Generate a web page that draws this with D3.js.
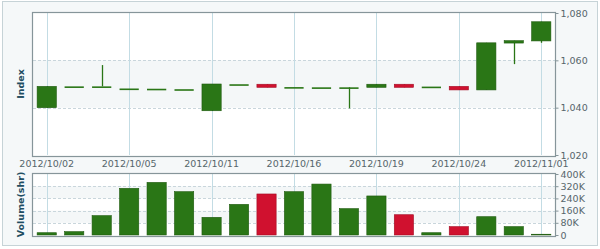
<!DOCTYPE html>
<html>
<head>
<meta charset="utf-8">
<script src="https://cdn.jsdelivr.net/npm/d3@7"></script>
<style>
  body { margin: 0; background: #fff; }
  svg { display: block; font-family: "DejaVu Sans", Verdana, sans-serif; }
</style>
</head>
<body>
<script>
// trading days shown on the chart
const dates = ['2012/10/02', '2012/10/03', '2012/10/04', '2012/10/05', '2012/10/08', '2012/10/10',
    '2012/10/11', '2012/10/12', '2012/10/15', '2012/10/16', '2012/10/17', '2012/10/18',
    '2012/10/19', '2012/10/22', '2012/10/23', '2012/10/24', '2012/10/26', '2012/10/29', '2012/11/01'];
const openValues = [1040, 1049, 1049, 1048.1, 1048, 1047.8, 1038.7, 1049.9, 1049.9, 1048.7,
    1048.6, 1048.6, 1048.6, 1049.9, 1048.9, 1049, 1047.5, 1067.3, 1068.2];
const closeValues = [1049, 1049, 1049, 1048.1, 1048, 1047.8, 1050, 1049.9, 1048.6, 1048.7,
    1048.6, 1048.6, 1049.9, 1048.6, 1048.9, 1047.5, 1067.4, 1068.3, 1076.3];
const highValues = [1049, 1049, 1058, 1048.1, 1048, 1047.8, 1050, 1049.9, 1049.9, 1048.7,
    1048.6, 1048.6, 1049.9, 1049.9, 1048.9, 1049, 1067.4, 1068.3, 1076.3];
const lowValues = [1040, 1049, 1049, 1048.1, 1048, 1047.8, 1038.7, 1049.9, 1048.6, 1048.7,
    1048.6, 1039.7, 1048.6, 1048.6, 1048.9, 1047.5, 1047.5, 1058.4, 1067.4];
const volumeValues = [15, 22, 127, 306, 345, 284, 116, 201, 269, 284,
    334, 173, 256, 133, 15, 55, 120, 55, 5].map(v => v * 1000);
const dateLabels = ['2012/10/02', '2012/10/05', '2012/10/11', '2012/10/16', '2012/10/19', '2012/10/24', '2012/11/01'];
const priceTicks = [1020, 1040, 1060, 1080];
const volumeTicks = [0, 80000, 160000, 240000, 320000, 400000];

const width = 600, height = 249;
const green = '#2a7616', greenEdge = '#1e5a0e', red = '#d0112f', redEdge = '#a30d24';

const svg = d3.select('body').append('svg')
    .attr('width', width)
    .attr('height', height);

// outer panel
svg.append('rect')
    .attr('x', 2.5).attr('y', 1.5)
    .attr('width', 595).attr('height', 244)
    .attr('fill', '#f5f8f9')
    .attr('stroke', '#c6d3d7');

const left = 33, right = 555;
const price = { top: 13, bottom: 155 };
const vol = { top: 174, bottom: 235 };

const x = d3.scaleBand().domain(dates).range([left, right]).paddingInner(0.3).paddingOuter(0.15);
const yPrice = d3.scaleLinear().domain([1020, 1080]).range([price.bottom, price.top]);
const yVol = d3.scaleLinear().domain([0, 400000]).range([vol.bottom, vol.top]);

const rows = dates.map((d, i) => ({
    date: d,
    open: openValues[i],
    close: closeValues[i],
    high: highValues[i],
    low: lowValues[i],
    volume: volumeValues[i],
    up: closeValues[i] >= openValues[i]
}));

function drawFrame(top, bottom, y, ticks, bands) {
    const g = svg.append('g');
    g.append('rect')
        .attr('x', left).attr('y', top)
        .attr('width', right - left).attr('height', bottom - top + 1)
        .attr('fill', '#fff');

    // shaded alternating bands
    g.selectAll('rect.band')
        .data(bands)
        .enter()
        .append('rect')
        .attr('class', 'band')
        .attr('x', left).attr('width', right - left)
        .attr('y', d => y(d[1]))
        .attr('height', d => y(d[0]) - y(d[1]))
        .attr('fill', '#f4f7f8');

    g.selectAll('line.h')
        .data(ticks.slice(1, -1))
        .enter()
        .append('line')
        .attr('x1', left).attr('x2', right)
        .attr('y1', d => Math.round(y(d)) + 0.5)
        .attr('y2', d => Math.round(y(d)) + 0.5)
        .attr('stroke', '#c9d6dc')
        .attr('stroke-dasharray', '3,2');

    g.selectAll('line.v')
        .data(dateLabels)
        .enter()
        .append('line')
        .attr('x1', d => Math.round(x(d) + x.bandwidth() / 2) + 0.5)
        .attr('x2', d => Math.round(x(d) + x.bandwidth() / 2) + 0.5)
        .attr('y1', top).attr('y2', bottom)
        .attr('stroke', '#c3dce4');

    return g;
}

function drawBorder(top, bottom) {
    svg.append('rect')
        .attr('x', left - 0.5).attr('y', top - 0.5)
        .attr('width', right - left + 1).attr('height', bottom - top + 2)
        .attr('fill', 'none')
        .attr('stroke', '#86959a')
        .attr('stroke-width', 1.2);
}

drawFrame(price.top, price.bottom, yPrice, priceTicks, [[1040, 1060]]);
drawFrame(vol.top, vol.bottom, yVol, volumeTicks, [[80000, 160000], [240000, 320000]]);

// candles
const candles = svg.append('g')
    .selectAll('g')
    .data(rows)
    .enter()
    .append('g');

candles.append('line')
    .attr('x1', d => Math.round(x(d.date) + x.bandwidth() / 2) + 0.5)
    .attr('x2', d => Math.round(x(d.date) + x.bandwidth() / 2) + 0.5)
    .attr('y1', d => yPrice(d.high))
    .attr('y2', d => yPrice(d.low))
    .attr('stroke', d => d.up ? green : red)
    .attr('stroke-width', 1.3);

candles.append('rect')
    .attr('x', d => x(d.date))
    .attr('width', x.bandwidth())
    .attr('y', d => yPrice(Math.max(d.open, d.close)))
    .attr('height', d => Math.max(1.6, yPrice(Math.min(d.open, d.close)) - yPrice(Math.max(d.open, d.close))))
    .attr('fill', d => d.up ? green : red)
    .attr('stroke', d => d.up ? greenEdge : redEdge)
    .attr('stroke-width', d => d.open === d.close ? 0 : 0.6);

// volume bars
svg.append('g')
    .selectAll('rect')
    .data(rows)
    .enter()
    .append('rect')
    .attr('x', d => x(d.date))
    .attr('width', x.bandwidth())
    .attr('y', d => yVol(d.volume))
    .attr('height', d => yVol(0) - yVol(d.volume))
    .attr('fill', d => d.up ? green : red)
    .attr('stroke', d => d.up ? greenEdge : redEdge)
    .attr('stroke-width', 0.6);

drawBorder(price.top, price.bottom);
drawBorder(vol.top, vol.bottom);

// right axes
const fmtPrice = d3.format(',');
const fmtVol = d => d === 0 ? '0' : (d / 1000) + 'K';

function styleAxis(g) {
    g.select('.domain').remove();
    g.selectAll('.tick line').attr('stroke', '#86959a');
    g.selectAll('.tick text')
        .attr('fill', '#56666b')
        .attr('font-size', 9.5)
        .attr('font-family', '"DejaVu Sans", Verdana, sans-serif');
}

svg.append('g')
    .attr('transform', `translate(${right + 0.5},0)`)
    .call(d3.axisRight(yPrice).tickValues(priceTicks).tickFormat(fmtPrice).tickSize(3).tickPadding(2))
    .call(styleAxis);

svg.append('g')
    .attr('transform', `translate(${right + 0.5},0)`)
    .call(d3.axisRight(yVol).tickValues(volumeTicks).tickFormat(fmtVol).tickSize(3).tickPadding(2))
    .call(styleAxis);

// date labels
svg.append('g')
    .selectAll('text')
    .data(dateLabels)
    .enter()
    .append('text')
    .attr('x', d => x(d) + x.bandwidth() / 2)
    .attr('y', 167)
    .attr('text-anchor', 'middle')
    .attr('fill', '#56666b')
    .attr('font-size', 9.5)
    .text(d => d);

// axis titles
svg.append('text')
    .attr('transform', `translate(24,${(price.top + price.bottom) / 2}) rotate(-90)`)
    .attr('text-anchor', 'middle')
    .attr('fill', '#1f4e62')
    .attr('font-size', 9.5)
    .attr('font-weight', 'bold')
    .text('Index');

svg.append('text')
    .attr('transform', `translate(24,${(vol.top + vol.bottom) / 2}) rotate(-90)`)
    .attr('text-anchor', 'middle')
    .attr('fill', '#1f4e62')
    .attr('font-size', 9.5)
    .attr('font-weight', 'bold')
    .text('Volume(shr)');
</script>
</body>
</html>
